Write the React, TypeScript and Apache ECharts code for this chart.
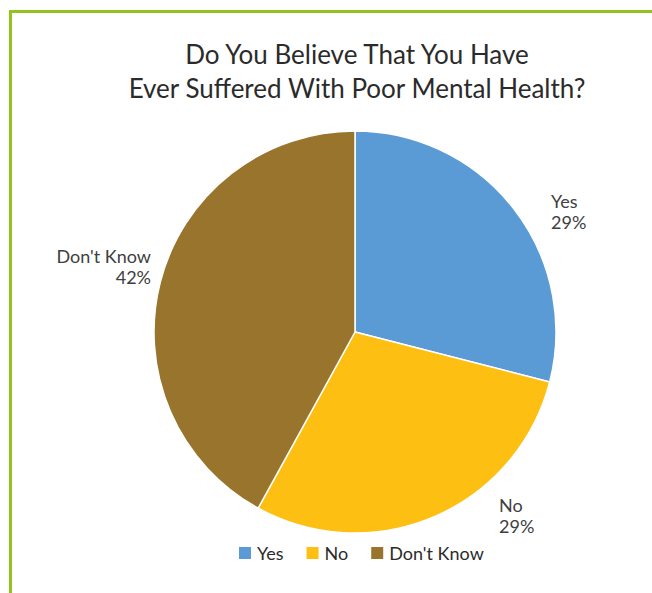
import React, { useEffect, useRef } from "react";
import * as echarts from "echarts";

const categories = ["Yes", "No", "Don't Know"];
const values = [29, 29, 42];
const colors = ["#5B9BD5", "#FDBF12", "#99742D"];
const titleLines = ["Do You Believe That You Have", "Ever Suffered With Poor Mental Health?"];

// label anchor positions (px) for each slice's outside label
const labelSpots = [
  { x: 551, y: 211, align: "left" },
  { x: 499, y: 515, align: "left" },
  { x: 151, y: 266, align: "right" },
];

export default function App() {
  const ref = useRef<HTMLDivElement>(null);
  useEffect(() => {
    const chart = echarts.init(ref.current!, null, { renderer: "svg" });
    const font = "Lato, 'Open Sans', sans-serif";
    chart.setOption({
      animation: false,
      backgroundColor: "#ffffff",
      color: colors,
      title: {
        text: titleLines.join("\n"),
        left: 352,
        textAlign: "center",
        top: 32,
        textStyle: {
          fontFamily: font,
          fontSize: 26,
          fontWeight: "normal",
          color: "#2b2b2b",
          lineHeight: 34,
        },
      },
      graphic: [
        {
          type: "rect",
          shape: { x: 10.5, y: 11.5, width: 800, height: 800 },
          style: { fill: "none", stroke: "#92C41C", lineWidth: 3 },
          silent: true,
        },
      ],
      legend: {
        top: 539,
        left: 232,
        itemWidth: 14,
        itemHeight: 14,
        itemGap: 21,
        icon: "rect",
        textStyle: { fontFamily: font, fontSize: 18, color: "#2b2b2b" },
        data: categories,
      },
      series: [
        {
          type: "pie",
          center: [355, 332],
          radius: [0, 201],
          startAngle: 90,
          clockwise: true,
          itemStyle: { borderColor: "#ffffff", borderWidth: 1.5 },
          label: {
            show: true,
            position: "outside",
            formatter: "{b}\n{d}%",
            fontFamily: font,
            fontSize: 18,
            lineHeight: 21,
            color: "#404040",
          },
          labelLine: { show: false },
          labelLayout: (p: any) => {
            const s = labelSpots[p.dataIndex];
            return { x: s.x, y: s.y, align: s.align, verticalAlign: "middle" };
          },
          data: categories.map((c, i) => ({ name: c, value: values[i] })),
        },
      ],
    });
    return () => chart.dispose();
  }, []);
  return (
    <div
      ref={ref}
      style={{ position: "absolute", left: 0, top: 0, width: 652, height: 593 }}
    />
  );
}
